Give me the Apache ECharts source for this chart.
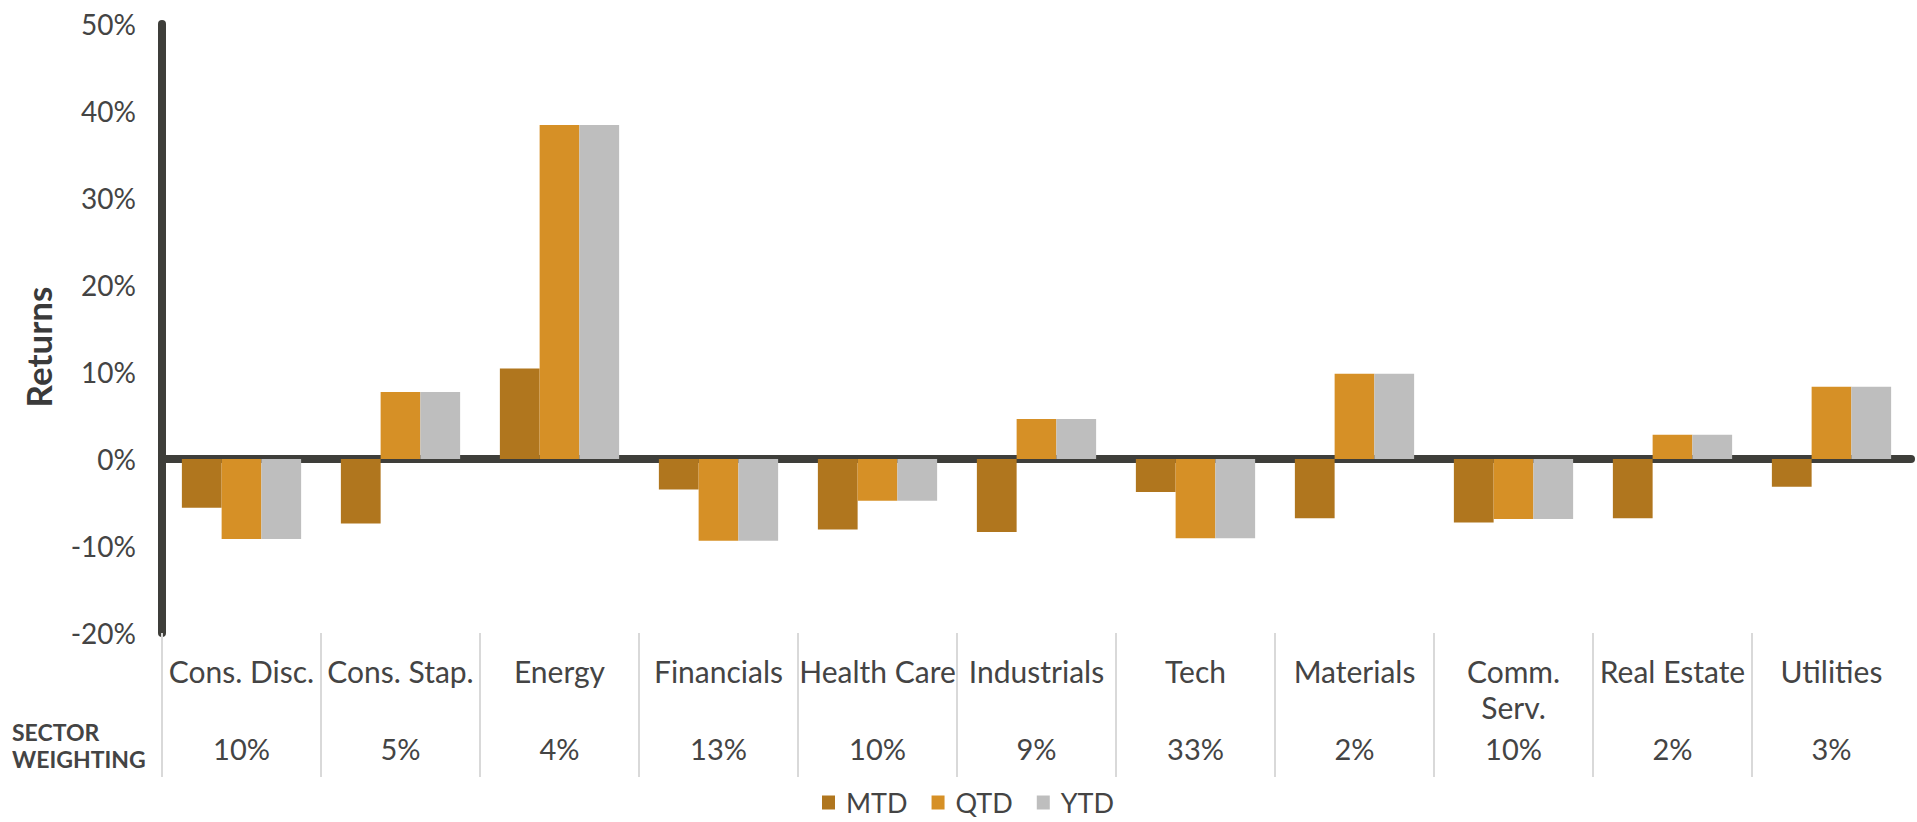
<!DOCTYPE html>
<html>
<head>
<meta charset="utf-8">
<title>Sector returns</title>
<script src="https://cdn.jsdelivr.net/npm/echarts@6/dist/echarts.min.js"></script>
<style>
html,body{margin:0;padding:0;background:#fff;}
#chartDiv{width:1917px;height:822px;}
</style>
</head>
<body>
<div id="chartDiv"></div>
<script>
// data
var categories = ['Cons. Disc.', 'Cons. Stap.', 'Energy', 'Financials', 'Health Care', 'Industrials', 'Tech', 'Materials', 'Comm.\nServ.', 'Real Estate', 'Utilities'];
var weightings = ['10%', '5%', '4%', '13%', '10%', '9%', '33%', '2%', '10%', '2%', '3%'];
var mtd = [-5.6, -7.4, 10.4, -3.5, -8.1, -8.4, -3.8, -6.8, -7.3, -6.8, -3.2];
var qtd = [-9.2, 7.7, 38.4, -9.4, -4.8, 4.6, -9.1, 9.8, -6.9, 2.8, 8.3];
var ytd = [-9.2, 7.7, 38.4, -9.4, -4.8, 4.6, -9.1, 9.8, -6.9, 2.8, 8.3];
var yTicks = {min: -20, max: 50, step: 10};

var app = {};
app.font = 'Lato';
app.textColor = '#444444';
app.axisColor = '#3e3e3a';

// divider lines sit on the left edge of every category (none at the far right)
var dividers = [];
for (var i = 0; i < categories.length; i++) {
	dividers.push(i);
}

function bar(name, data, color) {
	return {
		name: name,
		type: 'bar',
		xAxisIndex: 0,
		data: data,
		barGap: 0,
		barCategoryGap: '25%',
		itemStyle: {color: color},
		emphasis: {disabled: true}
	};
}

app.chart = echarts.init(document.getElementById('chartDiv'), null, {renderer: 'svg'});

var option = {
	backgroundColor: '#ffffff',
	animation: false,
	textStyle: {fontFamily: app.font, color: app.textColor},
	grid: {left: 162, right: 6, top: 24, bottom: 189, containLabel: false},
	legend: {
		data: ['MTD', 'QTD', 'YTD'],
		left: 822,
		top: 789,
		padding: 0,
		icon: 'rect',
		itemWidth: 13,
		itemHeight: 14,
		itemGap: 24,
		textStyle: {fontSize: 27, lineHeight: 26, color: app.textColor, fontFamily: app.font, padding: [0, 0, 0, 6]}
	},
	xAxis: [
		{	// zero line
			type: 'category',
			data: categories,
			axisLine: {onZero: true, lineStyle: {color: app.axisColor, width: 8}},
			axisTick: {show: false},
			axisLabel: {show: false},
			splitLine: {show: false}
		},
		{	// grey dividers under the plot
			type: 'value',
			position: 'bottom',
			min: 0,
			max: categories.length,
			axisLine: {show: false, onZero: false},
			axisTick: {show: true, customValues: dividers, length: 144, lineStyle: {color: '#d9d9d9', width: 2}},
			axisLabel: {show: false},
			splitLine: {show: false}
		},
		{	// sector names
			type: 'category',
			position: 'bottom',
			data: categories,
			axisLine: {show: false, onZero: false},
			axisTick: {show: false},
			axisLabel: {interval: 0, margin: 20, fontSize: 30, lineHeight: 36, verticalAlign: 'top', color: app.textColor, fontFamily: app.font}
		},
		{	// sector weighting row
			type: 'category',
			position: 'bottom',
			data: weightings,
			axisLine: {show: false, onZero: false},
			axisTick: {show: false},
			axisLabel: {interval: 0, margin: 97, fontSize: 29, lineHeight: 36, verticalAlign: 'top', color: app.textColor, fontFamily: app.font}
		}
	],
	yAxis: {
		type: 'value',
		min: yTicks.min,
		max: yTicks.max,
		interval: yTicks.step,
		axisLine: {show: true, lineStyle: {color: app.axisColor, width: 8}},
		axisTick: {show: false},
		splitLine: {show: false},
		axisLabel: {formatter: '{value}%', fontSize: 28, margin: 26, color: app.textColor, fontFamily: app.font}
	},
	graphic: [
		{
			type: 'text',
			x: 38,
			y: 347,
			rotation: Math.PI / 2,
			style: {text: 'Returns', font: 'bold 35px Lato', fill: '#3a3a3a', align: 'center', verticalAlign: 'middle'}
		},
		{
			type: 'text',
			x: 12,
			y: 718,
			style: {text: 'SECTOR\nWEIGHTING', font: 'bold 23px Lato', lineHeight: 27, fill: app.textColor, align: 'left', verticalAlign: 'top'}
		}
	],
	series: [
		bar('MTD', mtd, '#b0761e'),
		bar('QTD', qtd, '#d69026'),
		bar('YTD', ytd, '#bebebe')
	]
};
app.chart.setOption(option);
</script>
</body>
</html>
